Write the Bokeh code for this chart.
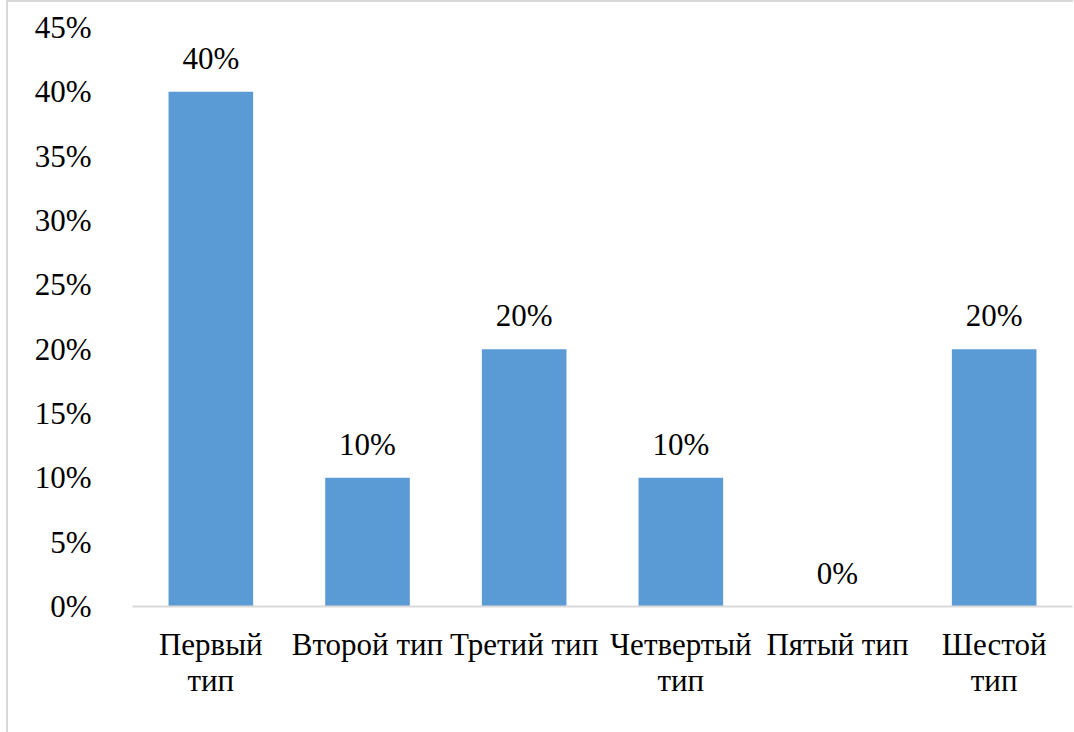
from bokeh.plotting import figure
from bokeh.models import ColumnDataSource, Range1d, NumeralTickFormatter, FixedTicker, LinearAxis
from bokeh.core.properties import value
from bokeh.embed import file_html
from bokeh.resources import INLINE

categories = ["Первый тип", "Второй тип", "Третий тип", "Четвертый тип", "Пятый тип", "Шестой тип"]
display_labels = ["Первый\nтип", "Второй тип", "Третий тип", "Четвертый\nтип", "Пятый тип", "Шестой\nтип"]
shares = [0.40, 0.10, 0.20, 0.10, 0.00, 0.20]
share_labels = ["40%", "10%", "20%", "10%", "0%", "20%"]
y_ticks = [0, 0.05, 0.10, 0.15, 0.20, 0.25, 0.30, 0.35, 0.40, 0.45]

FONT = "Liberation Serif"

xs = [i + 0.5 for i in range(len(categories))]
src = ColumnDataSource(dict(x=xs, cat=categories, v=shares, lab=share_labels))

p = figure(x_range=Range1d(0, len(categories)), y_range=Range1d(0, 0.45),
           width=1065, height=731, output_backend="svg", toolbar_location=None,
           frame_width=940, frame_height=579,
           min_border_left=124, min_border_right=1, min_border_top=25, min_border_bottom=127)
p.styles = {"margin-left": "6px"}
p.stylesheets = [":host { border-left: 2px solid #d9d9d9; border-top: 2px solid #d9d9d9; }"]

p.vbar(x="x", top="v", width=0.54, source=src, fill_color="#5b9bd5", line_color=None)
p.text(x="x", y="v", text="lab", source=src, text_align="center", text_baseline="bottom",
       y_offset=-16, text_font=value(FONT), text_font_size="31px", text_color="black")

first_lines = {x: lab.split("\n")[0] for x, lab in zip(xs, display_labels)}
second_lines = {x: (lab.split("\n") + [""])[1] for x, lab in zip(xs, display_labels)}

p.outline_line_color = None
p.xgrid.grid_line_color = None
p.ygrid.grid_line_color = None

p.yaxis.ticker = FixedTicker(ticks=y_ticks)
p.yaxis.formatter = NumeralTickFormatter(format="0%")
p.yaxis.axis_line_color = None
p.yaxis.major_tick_line_color = None
p.yaxis.minor_tick_line_color = None
p.yaxis.major_label_text_font = FONT
p.yaxis.major_label_text_font_size = "31px"
p.yaxis.major_label_text_color = "black"
p.yaxis.major_label_standoff = 35

p.xaxis.ticker = FixedTicker(ticks=xs)
p.xaxis.major_label_overrides = first_lines
p.xaxis.axis_line_color = "#d9d9d9"
p.xaxis.axis_line_width = 2
p.xaxis.major_tick_line_color = None
p.xaxis.minor_tick_line_color = None
p.xaxis.major_label_text_font = FONT
p.xaxis.major_label_text_font_size = "31px"
p.xaxis.major_label_text_color = "black"
p.xaxis.major_label_standoff = 14

ax2 = LinearAxis(ticker=FixedTicker(ticks=xs), major_label_overrides=second_lines,
                 axis_line_color=None, major_tick_line_color=None, minor_tick_line_color=None,
                 major_label_text_font=FONT, major_label_text_font_size="31px",
                 major_label_text_color="black", major_label_standoff=-8)
p.add_layout(ax2, "below")

open("out.html", "w").write(file_html(p, INLINE))
